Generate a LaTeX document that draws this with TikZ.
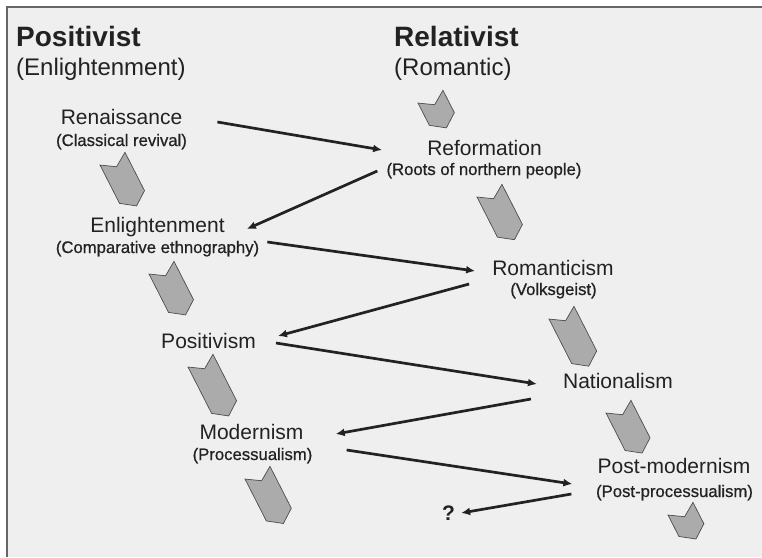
\documentclass[tikz,border=0pt]{standalone}
\usepackage{fontspec}
\setmainfont{Liberation Sans}
\newfontfamily\subfont[FakeBold=0.7]{Liberation Sans}
\usetikzlibrary{arrows.meta}
\definecolor{panel}{HTML}{EFEFEF}
\definecolor{ink}{HTML}{222222}
\def\chevron(#1)(#2){\draw[chev, shift={(#1)}, rotate=-63] (0,-14) -- (9,0) -- (0,14) -- (#2,14) -- (#2+10,0) -- (#2,-14) -- cycle;}

\begin{document}
\begin{tikzpicture}[x=1pt, y=-1pt,
	chev/.style={fill=black!33, draw=black!70, line width=0.7pt},
	link/.style={line width=2.7pt, draw=ink, -{Latex[length=9pt,width=8pt]}},
	head/.style={anchor=base west, inner sep=0pt, text=ink, font=\bfseries\fontsize{28}{32}\selectfont},
	school/.style={anchor=base west, inner sep=0pt, text=ink, font=\fontsize{24}{28}\selectfont},
	era/.style={anchor=base, inner sep=0pt, text=ink, font=\fontsize{21}{25}\selectfont},
	sub/.style={anchor=base, inner sep=0pt, text=ink, font=\subfont\fontsize{16.7}{20}\selectfont}]
			%%%%% FRAME %%%%%
			\useasboundingbox (0,0) rectangle (762,557);
			\fill[white] (0,0) rectangle (762,557);
			\fill[panel] (7,7) rectangle (762,557);
			\draw[line width=1.4pt, color=black!60] (7,557) -- (7,7) -- (762,7);
			
			%%%%% HEADINGS %%%%%
			\node[head] (posh) at (16,46) {Positivist};
			\node[school] (posk) at (16,75) {(Enlightenment)};
			\node[head] (relh) at (394,46) {Relativist};
			\node[school] (relk) at (394,75) {(Romantic)};
			
			%%%%% LEFT COLUMN %%%%%
			\node[era] (ren) at (121.5,124) {Renaissance};
			\node[sub] (rensub) at (121.5,146) {(Classical revival)};
			\node[era] (enl) at (157.5,232) {Enlightenment};
			\node[sub] (enlsub) at (157.5,253) {(Comparative ethnography)};
			\node[era] (pos) at (208.5,348) {Positivism};
			\node[era] (mod) at (251.5,439) {Modernism};
			\node[sub] (modsub) at (252.5,460) {(Processualism)};
			\node[era, font=\bfseries\fontsize{21}{25}\selectfont] (q) at (448.5,520) {?};
			
			%%%%% RIGHT COLUMN %%%%%
			\node[era] (ref) at (484.5,155) {Reformation};
			\node[sub] (refsub) at (484,175) {(Roots of northern people)};
			\node[era] (rom) at (553,275) {Romanticism};
			\node[sub] (romsub) at (553.5,295) {(Volksgeist)};
			\node[era] (nat) at (618,388) {Nationalism};
			\node[era] (post) at (674,473) {Post-modernism};
			\node[sub] (postsub) at (674.5,497) {(Post-processualism)};
			
			%%%%% CHEVRONS %%%%%
			\chevron(430.5,96.7)(25)
			\chevron(112.5,158.7)(43)
			\chevron(489.5,190.7)(45)
			\chevron(161.5,267.7)(43)
			\chevron(561.5,312.7)(50)
			\chevron(200.5,360.7)(52)
			\chevron(618.5,406.7)(42)
			\chevron(257.5,472.7)(47)
			\chevron(680.5,508.7)(24)
			
			%%%%% ZIGZAG %%%%%
			\draw[link] ([shift={(35,-2)}]ren.base east) -- ([shift={(-45,-5)}]ref.base west);
			\draw[link] ([shift={(-9,-4)}]refsub.base west) -- ([shift={(22,-3)}]enl.base east);
			\draw[link] ([shift={(8,-11)}]enlsub.base east) -- ([shift={(-17,-4)}]rom.base west);
			\draw[link] ([shift={(-23,9)}]rom.base west) -- ([shift={(22,-12)}]pos.base east);
			\draw[link] ([shift={(20,-5)}]pos.base east) -- ([shift={(-26,-4)}]nat.base west);
			\draw[link] ([shift={(-32,11)}]nat.base west) -- ([shift={(32,-5)}]mod.base east);
			\draw[link] ([shift={(43,11)}]mod.base east) -- ([shift={(-25,11)}]post.base west);
			\draw[link] ([shift={(-26,21)}]post.base west) -- ([shift={(6,-7)}]q.base east);
			
		\end{tikzpicture}
\end{document}
